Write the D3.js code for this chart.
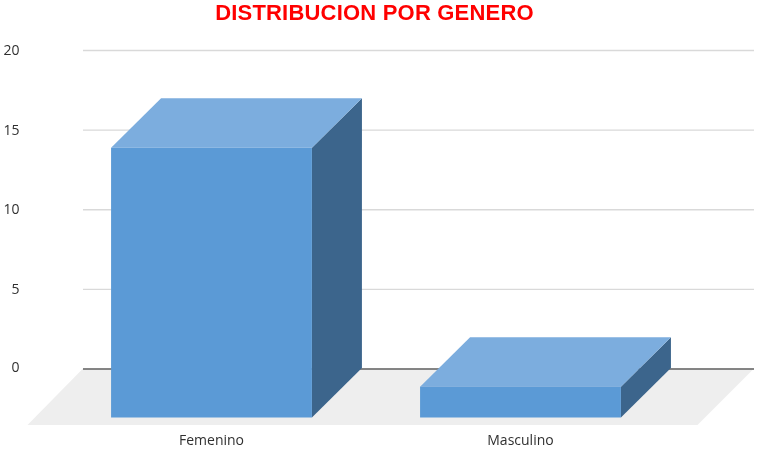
<!DOCTYPE html>
<html>
<head>
<meta charset="utf-8">
<script src="https://cdn.jsdelivr.net/npm/d3@7/dist/d3.min.js"></script>
<style>
html,body{margin:0;padding:0;background:#fff}
svg{display:block;filter:blur(0.4px)}
text{font-family:"Open Sans",Lato,sans-serif;fill:#303030}
</style>
</head>
<body>
<svg id="c" width="768" height="449"></svg>
<script>
const categories = ["Femenino", "Masculino"];
const values = [17, 2];
const yTicks = [0, 5, 10, 15, 20];
const titleText = "DISTRIBUCION POR GENERO";

const svg = d3.select("#c");

const y = d3.scaleLinear().domain([0, 20]).range([368.5, 50]);
const x = d3.scaleBand().domain(categories).range([57, 675]).paddingInner(0.35).paddingOuter(0.175);

const plotLeft = 83, plotRight = 754;
const floorDepth = 56.5;
const depthX = 50;
const depthY = 49.5;
const bottomDrop = 49;
const topDrop = 50;

const axis = d3.axisLeft(y).tickValues(yTicks).tickSize(-(plotRight - plotLeft)).tickPadding(63.5).tickFormat(d3.format("d"));

// floor
svg.append("polygon")
  .attr("points", [
    [plotLeft, y(0)], [plotRight, y(0)],
    [plotRight - floorDepth, y(0) + floorDepth], [plotLeft - floorDepth + 1, y(0) + floorDepth]
  ].map(p => p.join(",")).join(" "))
  .attr("fill", "#eeeeee");

const gAxis = svg.append("g").attr("transform", `translate(${plotLeft},0)`).call(axis);
gAxis.select(".domain").remove();
gAxis.selectAll(".tick line")
  .attr("stroke", d => d === 0 ? "#5f5f5f" : "#d9d9d9")
  .attr("stroke-width", 1.4);
gAxis.selectAll(".tick text")
  .attr("font-size", 14)
  .attr("font-family", "Open Sans")
  .attr("fill", "#303030");
gAxis.selectAll(".tick").filter(d => d === 0).select("text").attr("dy", "0.2em");

// 3D bars
const bars = svg.selectAll("g.bar").data(categories.map((c, i) => ({c, v: values[i]}))).join("g").attr("class", "bar");
const pts = a => a.map(p => p.join(",")).join(" ");

bars.each(function(d) {
  const g = d3.select(this);
  const x0 = x(d.c), x1 = x0 + x.bandwidth();
  const bottom = y(0) + bottomDrop;
  const top = y(d.v) + topDrop;
  g.append("polygon").attr("fill", "#3c658c")
    .attr("points", pts([[x1, top], [x1 + depthX, top - depthY], [x1 + depthX, bottom - depthY], [x1, bottom]]));
  g.append("polygon").attr("fill", "#7cadde")
    .attr("points", pts([[x0, top], [x0 + depthX, top - depthY], [x1 + depthX, top - depthY], [x1, top]]));
  g.append("rect").attr("fill", "#5b9ad6")
    .attr("x", x0).attr("y", top).attr("width", x.bandwidth()).attr("height", bottom - top);
});

// category labels
svg.selectAll("text.cat").data(categories).join("text")
  .attr("class", "cat")
  .attr("x", d => x(d) + x.bandwidth() / 2)
  .attr("y", 445)
  .attr("text-anchor", "middle")
  .attr("font-size", 14)
  .text(d => d);

// title
svg.append("text")
  .attr("x", 374.5).attr("y", 20)
  .attr("text-anchor", "middle")
  .style("font-family", "'Liberation Sans'")
  .attr("font-size", 22)
  .attr("letter-spacing", 0.2)
  .attr("font-weight", 700)
  .style("fill", "#ff0000")
  .text(titleText);
</script>
</body>
</html>
